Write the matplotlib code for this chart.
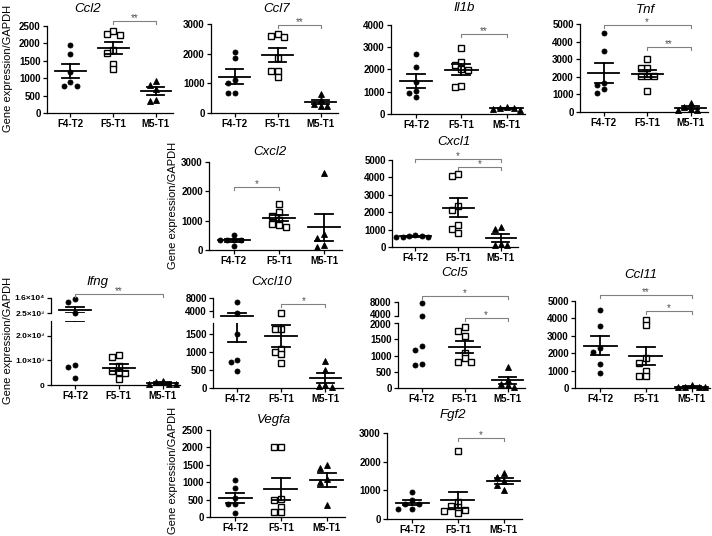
"""
Gene expression scatter panels (mean +/- SEM) for the three tumour groups
"""
import numpy as np
import matplotlib
matplotlib.use('Agg')
from matplotlib import pyplot as plt
from matplotlib.transforms import blended_transform_factory, ScaledTranslation

plt.rcParams['font.family'] = ['Liberation Sans', 'DejaVu Sans']

groups = ['F4-T2', 'F5-T1', 'M5-T1']

# values
ccl2_f4 = [1940, 1690, 1170, 890, 780, 780]
ccl2_f5 = [2360, 2260, 2250, 1800, 1720, 1420, 1270]
ccl2_m5 = [930, 810, 690, 380, 350]

ccl7_f4 = [2050, 1860, 1100, 1000, 670, 670]
ccl7_f5 = [2650, 2600, 2550, 1850, 1420, 1400, 1210]
ccl7_m5 = [650, 450, 300, 230, 220]

il1b_f4 = [2680, 2100, 1420, 1050, 930, 760]
il1b_f5 = [2980, 2340, 2190, 2000, 1980, 1260, 1200]
il1b_m5 = [330, 270, 250, 220, 200]

tnf_f4 = [4470, 3480, 1630, 1530, 1290, 1060]
tnf_f5 = [3000, 2520, 2480, 2060, 2040, 2020, 1180]
tnf_m5 = [530, 270, 190, 110, 110]

cxcl2_f4 = [520, 350, 340, 330, 330, 150]
cxcl2_f5 = [1580, 1300, 1160, 1030, 890, 840, 770]
cxcl2_m5 = [2630, 560, 400, 180, 90]

cxcl1_f4 = [700, 640, 620, 600, 580, 560]
cxcl1_f5 = [4200, 4100, 2330, 2140, 1280, 1030, 800]
cxcl1_m5 = [1150, 1050, 170, 100, 100]

ifng_f4 = [15100, 12400, 2600, 820, 720, 280]
ifng_f5 = [1230, 1120, 760, 560, 520, 500, 260]
ifng_m5 = [180, 130, 50, 40, 30]

cxcl10_f4 = [6700, 3400, 1510, 780, 730, 470]
cxcl10_f5 = [3140, 1660, 1660, 1080, 1000, 940, 700]
cxcl10_m5 = [750, 510, 80, 60, 40]

ccl5_f4 = [7700, 4000, 1300, 1180, 740, 720]
ccl5_f5 = [1880, 1760, 1600, 1090, 920, 800, 790]
ccl5_m5 = [650, 260, 120, 100, 30]

ccl11_f4 = [4470, 3550, 2280, 2090, 1370, 890]
ccl11_f5 = [3900, 3610, 1710, 1460, 1000, 670, 670]
ccl11_m5 = [200, 80, 50, 40, 30]

vegfa_f4 = [1070, 830, 560, 370, 370, 110]
vegfa_f5 = [2020, 2000, 520, 500, 280, 130, 130]
vegfa_m5 = [1480, 1400, 1090, 1000, 350]

fgf2_f4 = [930, 650, 530, 520, 360, 360]
fgf2_f5 = [2380, 610, 440, 420, 300, 270, 210]
fgf2_m5 = [1610, 1450, 1340, 1190, 1020]

W, H = 712, 536
fig = plt.figure(figsize=(W / 100, H / 100), dpi=100)


def rect(x0, y0, x1, y1):
    return [x0 / W, 1 - y1 / H, (x1 - x0) / W, (y1 - y0) / H]


def lin(top, step):
    return list(range(0, top + 1, step))


# segments: (low, high, ticks, tick labels, top px, bottom px), top segment first
panels = [
    dict(title='Ccl2', data=(ccl2_f4, ccl2_f5, ccl2_m5), x=(47, 173), tpos=(88, 9),
         segs=[(0, 2500, lin(2500, 500), None, 26, 113)], sigs=[(1, 2, '**', 21)]),
    dict(title='Ccl7', data=(ccl7_f4, ccl7_f5, ccl7_m5), x=(211, 338), tpos=(277, 9),
         segs=[(0, 3000, lin(3000, 1000), None, 24, 113)], sigs=[(1, 2, '**', 25)]),
    dict(title='Il1b', data=(il1b_f4, il1b_f5, il1b_m5), x=(391, 525), tpos=(464, 8),
         segs=[(0, 4000, lin(4000, 1000), None, 25, 114)], sigs=[(1, 2, '**', 34)]),
    dict(title='Tnf', data=(tnf_f4, tnf_f5, tnf_m5), x=(580, 708), tpos=(645, 10),
         segs=[(0, 5000, lin(5000, 1000), None, 24, 112)],
         sigs=[(0, 2, '*', 25), (1, 2, '**', 47)]),
    dict(title='Cxcl2', data=(cxcl2_f4, cxcl2_f5, cxcl2_m5), x=(209, 342), tpos=(270, 152),
         segs=[(0, 3000, lin(3000, 1000), None, 162, 250)], sigs=[(0, 1, '*', 187)]),
    dict(title='Cxcl1', data=(cxcl1_f4, cxcl1_f5, cxcl1_m5), x=(392, 518), tpos=(454, 142),
         segs=[(0, 5000, lin(5000, 1000), None, 160, 247)],
         sigs=[(0, 2, '*', 159), (1, 2, '*', 167)]),
    dict(title='Ifng', data=(ifng_f4, ifng_f5, ifng_m5), x=(51, 180), tpos=(97, 282),
         segs=[(2500, 16000, [2500, 16000], ['2.5×10³', '1.6×10⁴'], 298, 313),
               (0, 2600, [0, 1000, 2000], ['0', '1.0×10³', '2.0×10³'], 321, 385)],
         sigs=[(0, 2, '**', 294)], tfs=6),
    dict(title='Cxcl10', data=(cxcl10_f4, cxcl10_f5, cxcl10_m5), x=(213, 343), tpos=(272, 282),
         segs=[(2000, 8000, [4000, 8000], None, 298, 317),
               (0, 1820, lin(1500, 500), None, 323, 388)],
         sigs=[(1, 2, '*', 304)]),
    dict(title='Ccl5', data=(ccl5_f4, ccl5_f5, ccl5_m5), x=(398, 525), tpos=(455, 273),
         segs=[(4000, 8000, [4000, 8000], None, 302, 316),
               (0, 2000, lin(2000, 500), None, 323, 388)],
         sigs=[(0, 2, '*', 296), (1, 2, '*', 318)], noerr=[0], nudge=True),
    dict(title='Ccl11', data=(ccl11_f4, ccl11_f5, ccl11_m5), x=(575, 710), tpos=(641, 275),
         segs=[(0, 5000, lin(5000, 1000), None, 301, 388)],
         sigs=[(0, 2, '**', 295), (1, 2, '*', 311)]),
    dict(title='Vegfa', data=(vegfa_f4, vegfa_f5, vegfa_m5), x=(210, 345), tpos=(274, 420),
         segs=[(0, 2500, lin(2500, 500), None, 430, 517)], sigs=[]),
    dict(title='Fgf2', data=(fgf2_f4, fgf2_f5, fgf2_m5), x=(387, 522), tpos=(453, 415),
         segs=[(0, 3000, lin(3000, 1000), None, 433, 519)], sigs=[(1, 2, '*', 438)]),
]

markers = [dict(marker='o', ms=3.6, mfc='black', mec='black', mew=0.6),
           dict(marker='s', ms=4.2, mfc='white', mec='black', mew=1.0),
           dict(marker='^', ms=3.8, mfc='black', mec='black', mew=0.6)]


def to_px(segs, v):
    best = None
    for lo, hi, _, _, y0, y1 in segs:
        if lo <= v <= hi:
            return y1 - (v - lo) / (hi - lo) * (y1 - y0)
        edge = y0 if v > hi else y1
        d = abs(v - (hi if v > hi else lo))
        if best is None or d < best[0]:
            best = (d, edge)
    return best[1]


def seg_index(segs, v):
    for k, s in enumerate(segs):
        if s[0] <= v <= s[1]:
            return k
    return -1


def swarm(vals, segs, step=0.15, gap=5.0):
    order = np.argsort(vals)[::-1]
    xs = np.zeros(len(vals))
    placed = []
    for i in order:
        py = to_px(segs, vals[i])
        for k in [0, -1, 1, -2, 2, -3, 3]:
            ok = all(abs(py - q) >= gap or abs(k - kk) >= 1 for q, kk in placed)
            if ok:
                break
        placed.append((py, k))
        xs[i] = k * step
    return xs


for p in panels:
    x0, x1 = p['x']
    axes = []
    nseg = len(p['segs'])
    tfs = p.get('tfs', 7)
    for j, (lo, hi, ticks, labels, y0, y1) in enumerate(p['segs']):
        ax = fig.add_axes(rect(x0, y0, x1, y1))
        ax.set_xlim(-0.55, 2.4)
        ax.set_ylim(lo, hi)
        ax.set_yticks(ticks)
        ax.set_yticklabels(labels if labels else [str(t) for t in ticks],
                           fontsize=tfs, fontweight='bold')
        ax.patch.set_alpha(0)
        for s in ['top', 'right']:
            ax.spines[s].set_visible(False)
        for s in ['left', 'bottom']:
            ax.spines[s].set_linewidth(0.9)
        ax.tick_params(length=3, width=0.9, pad=1.5)
        if j < nseg - 1:
            ax.spines['bottom'].set_visible(False)
            ax.set_xticks([])
        else:
            ax.set_xticks([0, 1, 2])
            ax.set_xticklabels(groups, fontsize=7, fontweight='bold')
        axes.append(ax)

    # keep the labels either side of a tight break apart
    if p.get('nudge'):
        up = ScaledTranslation(0, 2 / 100, fig.dpi_scale_trans)
        down = ScaledTranslation(0, -1.5 / 100, fig.dpi_scale_trans)
        lab = axes[0].get_yticklabels()[0]
        lab.set_transform(lab.get_transform() + up)
        lab = axes[-1].get_yticklabels()[-1]
        lab.set_transform(lab.get_transform() + down)

    for g, vals in enumerate(p['data']):
        vals = np.array(vals, dtype=float)
        xs = swarm(vals, p['segs'])
        mean = vals.mean()
        sem = vals.std(ddof=1) / np.sqrt(len(vals))
        where = np.array([seg_index(p['segs'], v) for v in vals])
        for j, ax in enumerate(axes):
            sel = where == j
            ax.plot(g + xs[sel], vals[sel], ls='none', clip_on=False, zorder=3, **markers[g])
            if g in p.get('noerr', []):
                continue
            ax.plot([g - 0.36, g + 0.36], [mean, mean], color='black', lw=1.3, zorder=4)
            ax.plot([g - 0.2, g + 0.2], [mean + sem] * 2, color='black', lw=1.3, zorder=4)
            ax.plot([g - 0.2, g + 0.2], [mean - sem] * 2, color='black', lw=1.3, zorder=4)
            ax.plot([g, g], [mean - sem, mean + sem], color='black', lw=1.3, zorder=4)

    base = axes[-1]
    tr = blended_transform_factory(base.transData, fig.transFigure)
    for a, b, stars, ypx in p['sigs']:
        yf = 1 - ypx / H
        tk = 3 / H
        base.plot([a, a, b, b], [yf - tk, yf, yf, yf - tk], color='#808080', lw=0.8,
                  transform=tr, clip_on=False)
        base.text((a + b) / 2, yf + 2.5 / H, stars, transform=tr, ha='center', va='center',
                  fontsize=7, color='#505050')

    fig.text(p['tpos'][0] / W, 1 - p['tpos'][1] / H, p['title'], fontsize=9.5,
             style='italic', ha='center', va='center')

for xpx, ypx in [(8, 68), (173, 205), (8, 340), (173, 470)]:
    fig.text(xpx / W, 1 - ypx / H, 'Gene expression/GAPDH', rotation=90,
             fontsize=8, ha='center', va='center')

fig.savefig('out.png', dpi=100)
